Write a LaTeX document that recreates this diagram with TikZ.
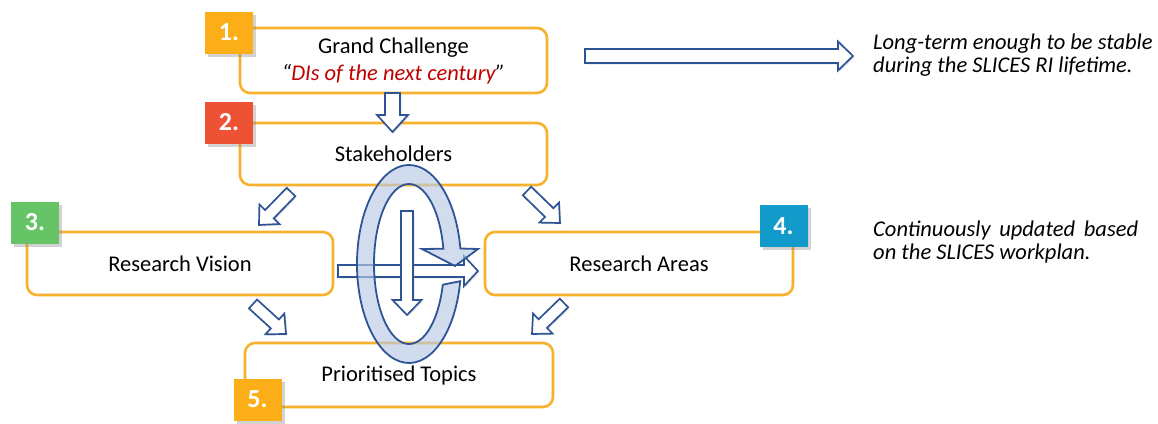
\documentclass[tikz,border=0pt]{standalone}
\usepackage{fontspec}
\setmainfont{Carlito}
\usetikzlibrary{calc,shadows}
\definecolor{boxor}{HTML}{F7B12D}
\definecolor{bone}{HTML}{FBAE17}
\definecolor{btwo}{HTML}{EE5234}
\definecolor{bthree}{HTML}{66C466}
\definecolor{bfour}{HTML}{129ACB}
\definecolor{arrblue}{HTML}{2F5496}
\definecolor{ringfill}{HTML}{B8CAE6}
\definecolor{redtxt}{HTML}{C00000}
\tikzset{
  box/.style={draw=boxor, line width=2.6pt, rounded corners=10pt, fill=white,
    inner sep=0pt, align=center, font=\fontsize{22.5}{27}\selectfont},
  badge/.style={minimum width=48pt, minimum height=42pt, inner sep=0pt, text=white,
    font=\fontsize{26}{28}\selectfont\bfseries,
    drop shadow={shadow xshift=3pt, shadow yshift=-3pt, opacity=0.35}},
  barrowst/.style={draw=arrblue, fill=white, line width=1.7pt, line join=miter,
    drop shadow={shadow xshift=1.5pt, shadow yshift=-1.5pt, opacity=0.2}},
  note/.style={anchor=west, align=left, inner sep=0pt,
    font=\fontsize{22.5}{23}\selectfont\itshape}
}
% block arrow: [style] {A}{B}{shaft half width}{head half width}{head length}
\newcommand{\blkarrow}[6][]{%
  \coordinate (bh) at ($(#3)!#6!(#2)$);
  \draw[barrowst,#1] ($(#2)!#4!-90:(#3)$) -- ($(bh)!#4!-90:(#3)$) -- ($(bh)!#5!-90:(#3)$)
    -- (#3) -- ($(bh)!#5!90:(#3)$) -- ($(bh)!#4!90:(#3)$) -- ($(#2)!#4!90:(#3)$) -- cycle;}
\begin{document}
\begin{tikzpicture}[x=1pt,y=-1pt]
\useasboundingbox (0,0) rectangle (1158,423);

% boxes
\node[box, minimum width=307pt, minimum height=65pt] (b1) at (393.5,60.5)
  {Grand Challenge\\{\itshape “\textcolor{redtxt}{DIs of the next century}”}};
\node[box, minimum width=307pt, minimum height=62pt] (b2) at (393.5,154) {Stakeholders};
\node[box, minimum width=306pt, minimum height=63pt] (b3) at (180,263.5) {Research Vision};
\node[box, minimum width=308pt, minimum height=63pt] (b4) at (639,263.5) {Research Areas};
\node[box, minimum width=308pt, minimum height=64pt] (b5) at (399,375) {Prioritised Topics};

% badges
\node[badge, fill=bone] (n1) at (229,32.5) {1.};
\node[badge, fill=btwo] (n2) at (229,122.5) {2.};
\node[badge, fill=bthree] (n3) at (35,222.5) {3.};
\node[badge, fill=bfour] (n4) at (783.5,226) {4.};
\node[badge, fill=bone] (n5) at (257.5,399.5) {5.};

% notes
\node[note] (t1) at (873,55) {Long-term enough to be stable\\during the SLICES RI lifetime.};
\node[note] (t2) at (873,242) {\makebox[265pt][s]{Continuously updated based}\\on the SLICES workplan.};

% arrow end points
\coordinate (wA) at (585,56);   \coordinate (wB) at (853,56);
\coordinate (dA) at (392.5,93); \coordinate (dB) at (392.5,132);
\coordinate (s3A) at (291,192); \coordinate (s3B) at (259,225);
\coordinate (s4A) at (527,191); \coordinate (s4B) at (560,223);
\coordinate (v5A) at (253,304); \coordinate (v5B) at (286,334);
\coordinate (a5A) at (564,303); \coordinate (a5B) at (532,334);
\coordinate (hA) at (338,271);  \coordinate (hB) at (478,271);
\coordinate (vA) at (407,211);  \coordinate (vB) at (407,315);

\blkarrow{wA}{wB}{7pt}{14.5pt}{15pt}
\blkarrow{dA}{dB}{7.5pt}{15.5pt}{17pt}
\blkarrow{s3A}{s3B}{6pt}{14pt}{15pt}
\blkarrow{s4A}{s4B}{6pt}{14pt}{15pt}
\blkarrow{v5A}{v5B}{6pt}{14pt}{15pt}
\blkarrow{a5A}{a5B}{6pt}{14pt}{15pt}

% horizontal arrow (under the ring)
\blkarrow{hA}{hB}{6pt}{15pt}{14pt}

% ring with arrow head
\coordinate (rc) at (409,264);
\path[fill=ringfill, fill opacity=0.65, draw=arrblue, line width=1.8pt, line join=miter]
  ($(rc)+(10:52 and 99)$) arc[start angle=10, end angle=351, x radius=52, y radius=99]
  -- (478,249) -- (455,266) -- (422,249)
  -- ($(rc)+(349:35 and 80)$) arc[start angle=349, end angle=15, x radius=35, y radius=80]
  -- cycle;

% vertical arrow (over the ring)
\blkarrow[drop shadow={opacity=0}]{vA}{vB}{6pt}{14.5pt}{15pt}
\end{tikzpicture}
\end{document}
